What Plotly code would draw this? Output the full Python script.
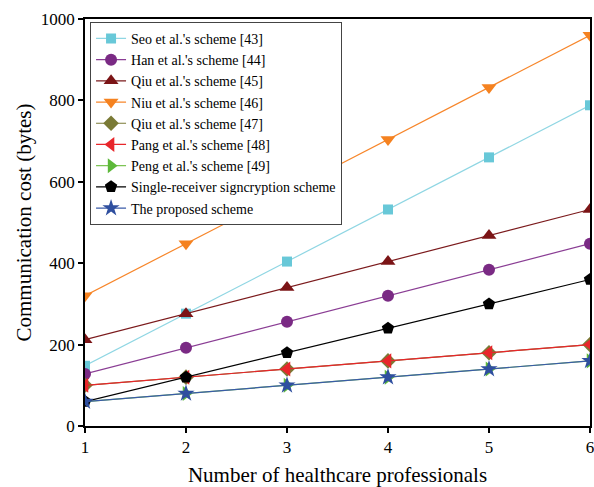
import plotly.graph_objects as go

x_vals = [1, 2, 3, 4, 5, 6]
names = ["Seo et al.'s scheme [43]", "Han et al.'s scheme [44]", "Qiu et al.'s scheme [45]",
         "Niu et al.'s scheme [46]", "Qiu et al.'s scheme [47]", "Pang et al.'s scheme [48]",
         "Peng et al.'s scheme [49]", "Single-receiver signcryption scheme", "The proposed scheme"]
seo = [148, 276, 404, 532, 660, 788]
han = [128, 192, 256, 320, 384, 448]
qiu45 = [212, 276, 340, 404, 468, 532]
niu = [320, 448, 576, 704, 832, 960]
qiu47 = [100, 120, 140, 160, 180, 200]
pang = [100, 120, 140, 160, 180, 200]
peng = [60, 80, 100, 120, 140, 160]
single = [60, 120, 180, 240, 300, 360]
proposed = [60, 80, 100, 120, 140, 160]
y_ticks = [0, 200, 400, 600, 800, 1000]

series = [seo, han, qiu45, niu, qiu47, pang, peng, single, proposed]
line_colors = ["#8fd6e3", "#8a3d94", "#7b1a1c", "#f7862a", "#7a7a36", "#e8262b", "#7dc454", "#000000", "#3a5ba8"]
marker_colors = ["#68c8d8", "#7a2a84", "#7b1416", "#f58220", "#7a7a36", "#e8262b", "#5db83a", "#000000", "#2f4f9f"]
symbols = ["square", "circle", "triangle-up", "triangle-down", "diamond", "triangle-left",
           "triangle-right", "pentagon", "star"]
sizes = [10, 12, 13, 13, 12, 13, 13, 13, 13]

fig = go.Figure()
for n, ys, lc, mc, s, sz in zip(names, series, line_colors, marker_colors, symbols, sizes):
    fig.add_trace(go.Scatter(x=x_vals, y=ys, name=n, mode="lines+markers",
                             line=dict(color=lc, width=1.2),
                             marker=dict(symbol=s, size=sz, color=mc, line=dict(width=0)),
                             cliponaxis=True))

axis_common = dict(showline=True, linecolor="black", linewidth=1.5, mirror=True,
                   ticks="outside", ticklen=5, tickwidth=1.5, tickcolor="black",
                   showgrid=False, zeroline=False, automargin=False,
                   ticklabeloverflow="allow",
                   tickfont=dict(family="Liberation Serif", size=17, color="black"),
                   title_font=dict(family="Liberation Serif", size=21, color="black"))

fig.update_xaxes(range=[1, 6], tickvals=x_vals, title_text="Number of healthcare professionals",
                 title_standoff=19, **axis_common)
fig.update_yaxes(range=[0, 1000], tickvals=y_ticks,
                 title_text="Communication cost (bytes)", title_standoff=3, **axis_common)

fig.update_layout(
    width=594, height=487,
    margin=dict(l=85, r=4, t=19, b=61),
    plot_bgcolor="white", paper_bgcolor="white",
    font=dict(family="Liberation Serif", color="black"),
    legend=dict(x=0.01, y=0.993, xanchor="left", yanchor="top",
                bordercolor="#444444", borderwidth=1, bgcolor="white",
                font=dict(family="Liberation Serif", size=14, color="black"),
                tracegroupgap=0, itemwidth=30),
    showlegend=True,
)

fig.write_html("out.html",
               config={"displayModeBar": False},
               post_script="document.body.style.margin='0';"
                           "document.documentElement.style.overflow='hidden';"
                           "document.body.style.overflow='hidden';")
